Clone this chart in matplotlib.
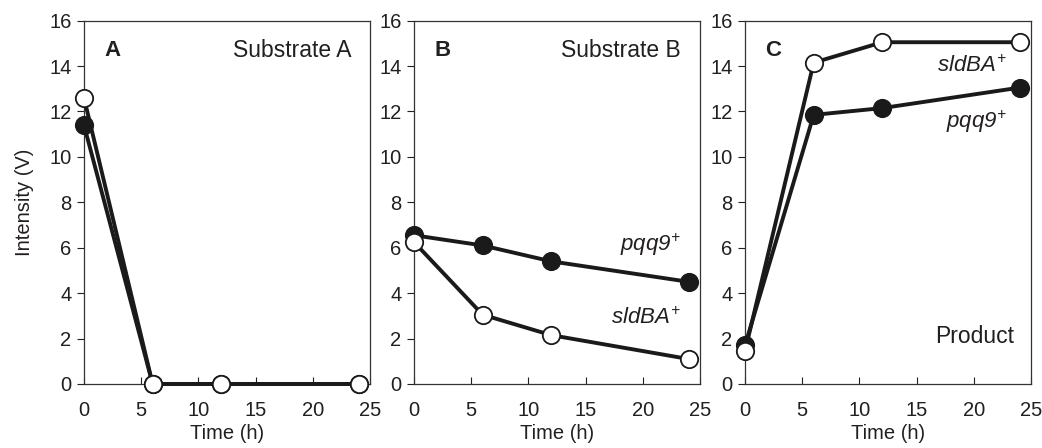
import matplotlib
matplotlib.use('Agg')
import matplotlib.pyplot as plt

plt.rcParams['font.family'] = ['Liberation Sans', 'DejaVu Sans']
plt.rcParams['mathtext.fontset'] = 'custom'
plt.rcParams['mathtext.rm'] = 'Liberation Sans:italic'
plt.rcParams['mathtext.it'] = 'Liberation Sans:italic'

# sampling times (h)
time_h = [0, 6, 12, 24]

# Substrate A
subA_pqq9 = [11.4, 0, 0, 0]
subA_sldBA = [12.6, 0, 0, 0]
# Substrate B
subB_pqq9 = [6.55, 6.1, 5.4, 4.5]
subB_sldBA = [6.25, 3.05, 2.15, 1.1]
# Product
prod_pqq9 = [1.7, 11.85, 12.15, 13.05]
prod_sldBA = [1.45, 14.15, 15.05, 15.05]

xticks = [0, 5, 10, 15, 20, 25]
yticks = [0, 2, 4, 6, 8, 10, 12, 14, 16]

txt = '#231f20'
lc = '#1a1a1a'

fig = plt.figure(figsize=(10.42, 4.48), dpi=100)
lefts = [0.0806, 0.3973, 0.715]
axes = [fig.add_axes([l, 0.1429, 0.2745, 0.811]) for l in lefts]

panels = [(subA_pqq9, subA_sldBA), (subB_pqq9, subB_sldBA), (prod_pqq9, prod_sldBA)]

for ax, (filled, opened) in zip(axes, panels):
    ax.plot(time_h, filled, '-o', color=lc, lw=2.8, ms=12.5, mfc=lc, mec=lc,
            mew=1.3, clip_on=False, zorder=3)
    ax.plot(time_h, opened, '-o', color=lc, lw=2.8, ms=12.5, mfc='white', mec=lc,
            mew=1.3, clip_on=False, zorder=4)
    ax.set_xlim(0, 25)
    ax.set_ylim(0, 16)
    ax.set_xticks(xticks)
    ax.set_yticks(yticks)
    ax.tick_params(axis='x', direction='in', length=5, width=0.8, colors=txt,
                   labelsize=14.5, pad=12)
    ax.tick_params(axis='y', direction='out', length=5, width=0.8, colors=txt,
                   labelsize=14.5, pad=4)
    for s in ax.spines.values():
        s.set_linewidth(0.9)
        s.set_color('#333333')
    ax.set_xlabel('Time (h)', fontsize=14.5, color=txt, labelpad=3)

axes[0].set_ylabel('Intensity (V)', fontsize=14.5, color=txt, labelpad=11)

# panel letters and titles
for ax, letter in zip(axes, ['A', 'B', 'C']):
    ax.text(1.8, 14.7, letter, fontsize=16, fontweight='bold', color=txt,
            ha='left', va='center')
axes[0].text(23.4, 14.7, 'Substrate A', fontsize=16.5, color=txt, ha='right', va='center')
axes[1].text(23.3, 14.7, 'Substrate B', fontsize=16.5, color=txt, ha='right', va='center')
axes[2].text(23.5, 2.1, 'Product', fontsize=16.5, color=txt, ha='right', va='center')

pqq = r'$pqq9^{+}$'
sld = r'$sldBA^{+}$'
axes[1].text(23.3, 6.15, pqq, fontsize=16, color=txt, ha='right', va='center')
axes[1].text(23.3, 2.9, sld, fontsize=16, color=txt, ha='right', va='center')
axes[2].text(22.9, 14.0, sld, fontsize=16, color=txt, ha='right', va='center')
axes[2].text(22.9, 11.55, pqq, fontsize=16, color=txt, ha='right', va='center')

fig.savefig('out.png', dpi=100)
